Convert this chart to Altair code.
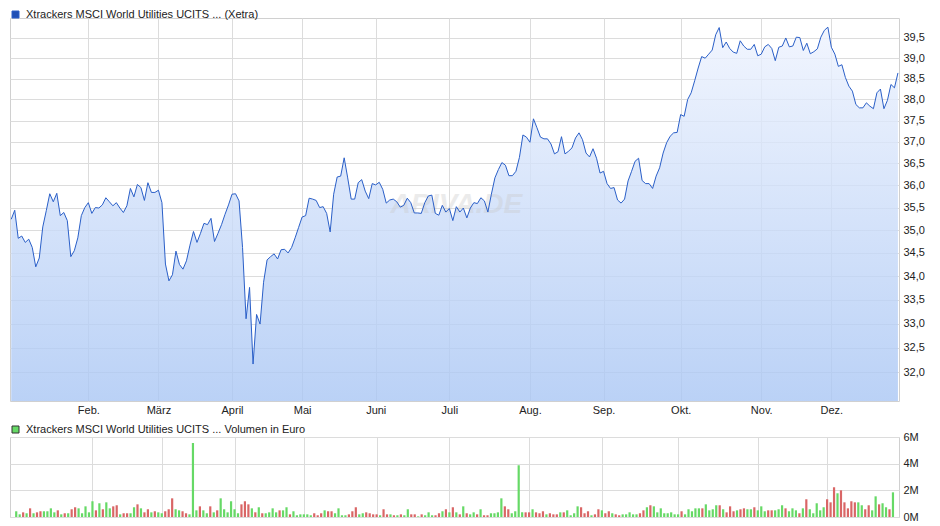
import altair as alt
import pandas as pd

# ---------------- data ----------------
series_price = "Xtrackers MSCI World Utilities UCITS ... (Xetra)"
series_volume = "Xtrackers MSCI World Utilities UCITS ... Volumen in Euro"

# month start positions (trading-day index) and labels
month_idx = [22, 42, 63, 83, 104, 125, 148, 169, 191, 214, 234]
month_lbl = ["Feb.", "März", "April", "Mai", "Juni", "Juli", "Aug.", "Sep.", "Okt.", "Nov.", "Dez."]

price_ticks = [32.0, 32.5, 33.0, 33.5, 34.0, 34.5, 35.0, 35.5, 36.0, 36.5, 37.0, 37.5, 38.0, 38.5, 39.0, 39.5]
vol_ticks = [0, 2, 4, 6]  # millions

price = [
    35.24, 35.44, 34.82, 34.87, 34.73, 34.80, 34.62, 34.20, 34.39, 35.07,
    35.43, 35.81, 35.63, 35.82, 35.32, 35.39, 35.21, 34.42, 34.55, 34.83,
    35.32, 35.50, 35.61, 35.37, 35.50, 35.49, 35.56, 35.72, 35.63, 35.54,
    35.61, 35.49, 35.39, 35.54, 35.93, 35.74, 36.02, 35.95, 35.66, 36.06,
    35.84, 35.84, 35.89, 35.61, 34.26, 33.90, 34.03, 34.54, 34.25, 34.15,
    34.33, 34.67, 34.97, 34.73, 34.93, 35.15, 35.12, 35.26, 34.75, 34.93,
    35.12, 35.35, 35.56, 35.80, 35.81, 35.65, 34.62, 33.10, 33.76, 32.17,
    33.19, 32.99, 33.87, 34.35, 34.42, 34.48, 34.37, 34.57, 34.58, 34.50,
    34.62, 34.83, 35.06, 35.29, 35.32, 35.71, 35.69, 35.66, 35.50, 35.52,
    35.37, 34.96, 35.80, 36.19, 36.21, 36.63, 36.17, 35.69, 35.69, 36.06,
    36.13, 35.87, 35.70, 36.04, 36.01, 36.07, 35.91, 35.60, 35.67, 35.69,
    35.63, 35.51, 35.55, 35.71, 35.61, 35.38, 35.38, 35.37, 35.61, 35.76,
    35.78, 35.37, 35.33, 35.55, 35.40, 35.48, 35.21, 35.52, 35.40, 35.49,
    35.27, 35.49, 35.61, 35.59, 35.72, 35.65, 35.40, 35.80, 36.17, 36.36,
    36.52, 36.46, 36.22, 36.22, 36.32, 36.64, 37.16, 37.11, 36.99, 37.54,
    37.33, 37.11, 37.07, 37.07, 36.95, 36.72, 36.77, 37.12, 36.72, 36.78,
    36.86, 37.09, 37.21, 37.05, 36.74, 36.65, 36.84, 36.62, 36.28, 36.32,
    36.04, 35.93, 35.95, 35.67, 35.60, 35.69, 36.10, 36.32, 36.55, 36.62,
    36.11, 36.04, 36.04, 35.93, 36.21, 36.40, 36.74, 36.98, 37.13, 37.21,
    37.22, 37.64, 37.60, 38.00, 38.16, 38.45, 38.76, 39.04, 39.00, 39.10,
    39.20, 39.58, 39.76, 39.26, 39.40, 39.24, 39.15, 39.12, 39.43, 39.30,
    39.22, 39.22, 39.34, 39.06, 39.10, 39.28, 39.34, 39.24, 38.94, 39.27,
    39.30, 39.50, 39.28, 39.30, 39.52, 39.51, 39.19, 39.37, 39.11, 39.16,
    39.23, 39.52, 39.69, 39.77, 39.27, 39.10, 38.80, 38.84, 38.53, 38.32,
    38.20, 37.88, 37.80, 37.80, 37.92, 37.84, 37.78, 38.16, 38.25, 37.78,
    37.98, 38.36, 38.28, 38.64,
]

# volume in millions of euro
volume = [
    0.43, 0.2, 0.35, 0.28, 0.65, 0.28, 0.35, 0.43, 0.43, 0.43,
    0.65, 0.35, 0.5, 0.2, 0.28, 0.28, 0.58, 0.73, 0.65, 0.28,
    0.8, 0.35, 1.18, 0.5, 1.03, 0.58, 1.1, 0.65, 0.8, 0.88,
    0.2, 0.28, 0.28, 0.28, 0.73, 0.95, 0.65, 0.35, 0.58, 0.35,
    0.43, 0.35, 0.28, 0.43, 0.58, 1.4, 0.58, 0.5, 0.43, 0.28,
    0.2, 5.55, 0.5, 0.8, 0.5, 0.28, 0.8, 0.35, 0.5, 1.4,
    0.58, 0.35, 1.18, 0.58, 0.28, 0.95, 1.18, 0.95, 0.65, 0.35,
    0.73, 0.28, 0.28, 0.35, 0.65, 0.35, 0.5, 0.5, 0.73, 0.2,
    0.43, 0.13, 0.2, 0.2, 0.2, 0.13, 0.28, 0.13, 0.28, 0.5,
    0.43, 0.43, 0.28, 0.65, 0.13, 0.13, 0.2, 0.43, 0.73, 0.2,
    0.28, 0.35, 0.28, 0.2, 0.2, 0.13, 0.58, 0.2, 0.2, 0.13,
    0.13, 0.2, 0.13, 0.58, 0.2, 0.2, 0.05, 0.2, 0.13, 0.35,
    0.13, 0.13, 0.28, 0.43, 0.58, 0.35, 0.73,
    0.35, 0.2, 0.8, 0.28, 0.2, 0.35, 0.2, 0.58, 0.13, 0.13,
    0.28, 0.28, 0.35, 1.4, 0.8, 0.58, 0.28, 0.43, 3.88, 0.35,
    0.35, 0.35, 0.58, 0.35, 0.28, 0.43, 0.2, 0.28, 0.2, 0.2,
    0.35, 0.35, 0.5, 0.13, 0.28, 0.8, 0.73, 0.28, 0.43, 0.13,
    0.2, 0.58, 0.5, 0.28, 0.43, 0.28, 0.2, 0.13, 0.2, 0.2,
    0.35, 0.2, 0.2, 0.28, 0.5, 0.73, 0.88, 0.8, 0.35, 0.65,
    0.28, 0.28, 0.35, 0.2, 0.2, 0.43, 0.2, 0.58, 0.43, 0.65,
    0.65, 0.65, 0.95, 0.5, 0.58, 0.88, 0.88, 0.58, 0.35, 0.8,
    0.43, 0.5, 0.58, 0.65, 0.58, 0.58, 0.73, 0.5, 0.8, 0.43,
    0.5, 0.5, 0.5, 0.58, 0.88, 0.65, 0.43, 0.65, 0.5, 0.28,
    0.65, 1.33, 0.58, 0.28, 1.03, 0.5, 0.73, 1.33, 1.1, 2.23,
    1.78, 2.0, 1.1, 0.65, 1.18, 1.1, 1.1, 0.88, 0.58, 0.88,
    0.5, 1.55, 0.95, 1.03, 0.73, 0.58, 1.85,
]

# day direction for volume colouring: G = up day, R = down day
vol_dir = list(
    "GGRGRGRRGG" "GGRGRGRRGG" "GGGRGRGGRR" "GRRGGRGRRG" "RGGRRRGGRR"
    "GGGRGGRGRG" "GGGGGRRRGR" "GRGGGGRGGR" "GGGGGGRRRG" "RRGGGGRRRG"
    "GRRRRGRRGR" "GRGGRRGRGG" "GRRGRGR"
    "GRGRGGRGRR" "GGGGRRGGGG" "RRGRRRGRRR" "GRGGGGRRRG" "RRGRRGRRGG"
    "GGGRRGRGGG" "GGGGGRGGGG" "GRGGGGRGRR" "RGRRGGRGGG" "RRGGGRGGGR"
    "GRGGGGGRRR" "GRRRRRGGRR" "GGRGGRG"
)

watermark = ["ARIVA.DE"]
watermark_at = [127, 35.55]  # (day index, price) of the watermark centre

# ---------------- frames ----------------
n = len(price)
price_df = pd.DataFrame({"i": list(range(n)), "price": price, "series": [series_price] * n})
vol_df = pd.DataFrame({"i": list(range(n)), "vol": volume, "dir": vol_dir})
wm_df = pd.DataFrame({"i": [watermark_at[0]], "price": [watermark_at[1]], "t": watermark})

FONT = "Liberation Sans"
Y_MIN, Y_MAX = 31.43, 40.0
W = 889

x_scale = alt.Scale(domain=[-0.35, n - 0.7], nice=False, zero=False)
y_scale = alt.Scale(type="log", domain=[Y_MIN, Y_MAX], nice=False, zero=False)

month_expr = "[" + ",".join("'%s'" % m for m in month_lbl) + "][indexof([" + ",".join(str(v) for v in month_idx) + "], datum.value)]"

x_axis_price = alt.Axis(values=month_idx, labelExpr=month_expr, grid=True, ticks=False, tickSize=0,
                        domain=False, labelPadding=3, title=None, labelFlush=False)
y_axis_price = alt.Axis(orient="right", values=price_ticks,
                        labelExpr="replace(format(datum.value, '.1f'), '.', ',')",
                        grid=True, ticks=False, tickSize=0, domain=False, labelPadding=4, title=None)

grad = alt.LinearGradient(
    gradient="linear",
    stops=[alt.GradientStop(color="#eef3fe", offset=0), alt.GradientStop(color="#a9c6f4", offset=1)],
    x1=1, x2=1, y1=0, y2=1,
)

area = alt.Chart(price_df).mark_area(color=grad, opacity=0.8).encode(
    x=alt.X("i:Q", scale=x_scale, axis=x_axis_price),
    y=alt.Y("price:Q", scale=y_scale, axis=y_axis_price),
    y2=alt.Y2(datum=Y_MIN),
)

wm = alt.Chart(wm_df).mark_text(fontSize=28, fontWeight="bold", fontStyle="italic", color="#c8c8c8",
                                opacity=0.35, font=FONT).encode(
    x=alt.X("i:Q", scale=x_scale), y=alt.Y("price:Q", scale=y_scale), text="t:N"
)

line = alt.Chart(price_df).mark_line(strokeWidth=1.0).encode(
    x=alt.X("i:Q", scale=x_scale),
    y=alt.Y("price:Q", scale=y_scale),
    color=alt.Color("series:N", scale=alt.Scale(range=["#2a5fc8"]),
                    legend=alt.Legend(title=None, orient="none", legendX=0, legendY=-9,
                                      symbolType="square", symbolSize=49, symbolStrokeWidth=1,
                                      symbolStrokeColor="#333333", symbolFillColor="#1f4fb5",
                                      labelLimit=600, padding=0, labelOffset=5)),
)

price_chart = alt.layer(area, wm, line).properties(width=W, height=383)

bars = alt.Chart(vol_df).mark_bar(size=2.2).encode(
    x=alt.X("i:Q", scale=x_scale,
            axis=alt.Axis(values=month_idx, labels=False, grid=True, ticks=False, tickSize=0,
                          domain=False, title=None)),
    y=alt.Y("vol:Q", scale=alt.Scale(domain=[0, 6], nice=False, zero=True),
            axis=alt.Axis(orient="right", values=vol_ticks, labelExpr="datum.value + 'M'",
                          grid=True, ticks=False, tickSize=0, domain=False, labelPadding=4, title=None)),
    color=alt.Color("dir:N", scale=alt.Scale(domain=["G", "R"], range=["#66d966", "#d96666"]),
                    legend=alt.Legend(values=["G"], labelExpr="'%s'" % series_volume, title=None,
                                      orient="none", legendX=0, legendY=-13, symbolType="square",
                                      symbolSize=49, symbolStrokeWidth=1, symbolStrokeColor="#333333",
                                      labelLimit=600, padding=0, labelOffset=5)),
).properties(width=W, height=80)

chart = alt.vconcat(price_chart, bars, spacing=7).resolve_scale(
    color="independent"
).resolve_legend(color="independent").properties(
    padding=0
).configure(
    font=FONT, background="white"
).configure_view(
    stroke="#d0d0d0"
).configure_axis(
    gridColor="#dcdcdc", gridWidth=1, labelFont=FONT, labelFontSize=11, labelColor="#222222"
).configure_legend(
    labelFont=FONT, labelFontSize=11, labelColor="#222222"
)

chart.save("out.html", embed_options={"renderer": "svg", "actions": False})
